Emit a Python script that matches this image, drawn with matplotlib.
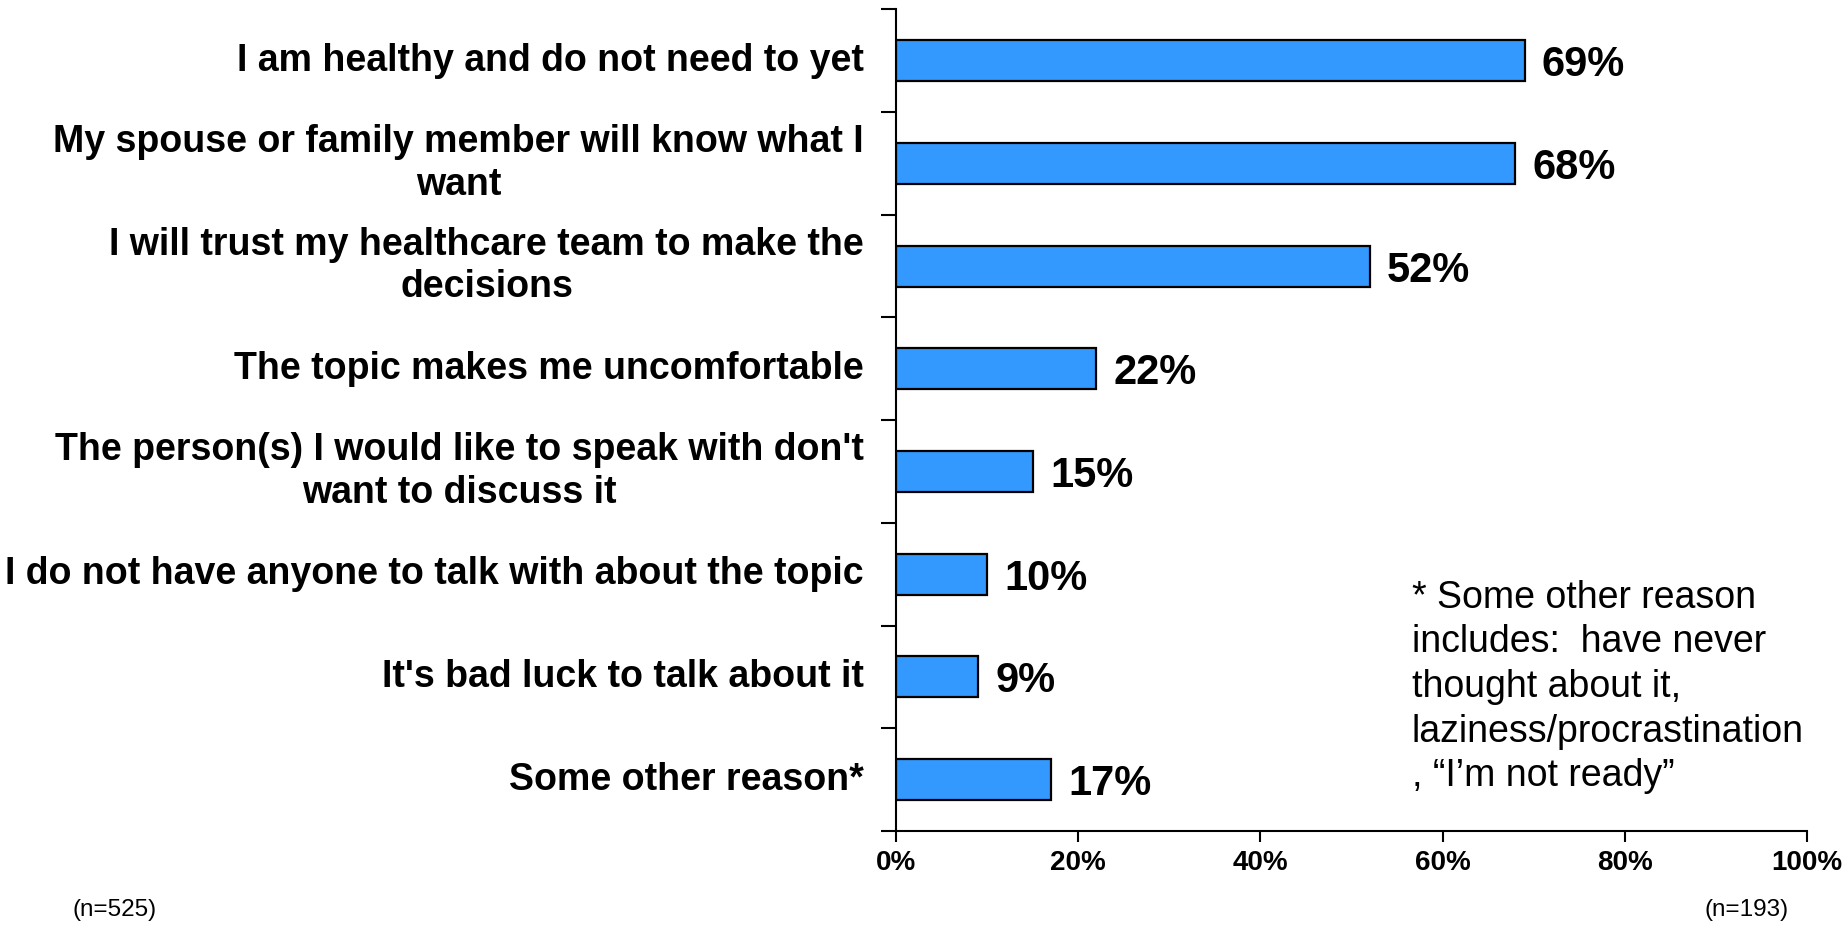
import matplotlib.pyplot as plt
from matplotlib.ticker import FixedLocator, FuncFormatter

# datos
razones = [
    "I am healthy and do not need to yet",
    "My spouse or family member will know what I\nwant",
    "I will trust my healthcare team to make the\ndecisions",
    "The topic makes me uncomfortable",
    "The person(s) I would like to speak with don't\nwant to discuss it",
    "I do not have anyone to talk with about the topic",
    "It's bad luck to talk about it",
    "Some other reason*",
]
porcentajes = [69, 68, 52, 22, 15, 10, 9, 17]
ticks_x = [0, 20, 40, 60, 80, 100]

nota = ("* Some other reason\nincludes:  have never\nthought about it,\n"
        "laziness/procrastination\n, \u201cI\u2019m not ready\u201d")

plt.rcParams['font.family'] = ['Liberation Sans', 'DejaVu Sans']

fig = plt.figure(figsize=(18.48, 9.26), dpi=100)
ax = fig.add_axes([0.4848, 0.1026, 0.493, 0.8874])

pos = list(range(len(razones)))
ax.barh(pos, porcentajes, height=0.4, color='#3399FF',
        edgecolor='black', linewidth=1.6)

ax.set_xlim(0, 100)
ax.set_ylim(7.5, -0.5)

# etiquetas de valor
for i, v in enumerate(porcentajes):
    ax.text(v + 1.9, i, f"{v}%", va='center_baseline', ha='left',
            fontsize=30, fontweight='bold')

# etiquetas de categoría
for i, r in enumerate(razones):
    ax.text(-3.5, i, r, va='center', ha='right', multialignment='center',
            fontsize=27, fontweight='bold', linespacing=1.23)

# ejes
for s in ['top', 'right']:
    ax.spines[s].set_visible(False)
ax.spines['left'].set_linewidth(1.5)
ax.spines['bottom'].set_linewidth(1.5)

ax.yaxis.set_major_locator(FixedLocator([i - 0.5 for i in range(9)]))
ax.set_yticklabels([])
ax.tick_params(axis='y', length=11, width=1.5, direction='out')

ax.xaxis.set_major_locator(FixedLocator(ticks_x))
ax.xaxis.set_major_formatter(FuncFormatter(lambda x, _: f"{x:.0f}%"))
ax.tick_params(axis='x', length=8, width=1.5, direction='out', pad=6,
               labelsize=20)
for lbl in ax.get_xticklabels():
    lbl.set_fontweight('bold')

# notas
fig.text(0.764, 0.374, nota, ha='left', va='top', fontsize=27,
         linespacing=1.31)
fig.text(0.0395, 0.017, "(n=525)", ha='left', va='center', fontsize=17.5)
fig.text(0.9225, 0.017, "(n=193)", ha='left', va='center', fontsize=17.5)

fig.savefig("out.png", dpi=100, facecolor='white')
